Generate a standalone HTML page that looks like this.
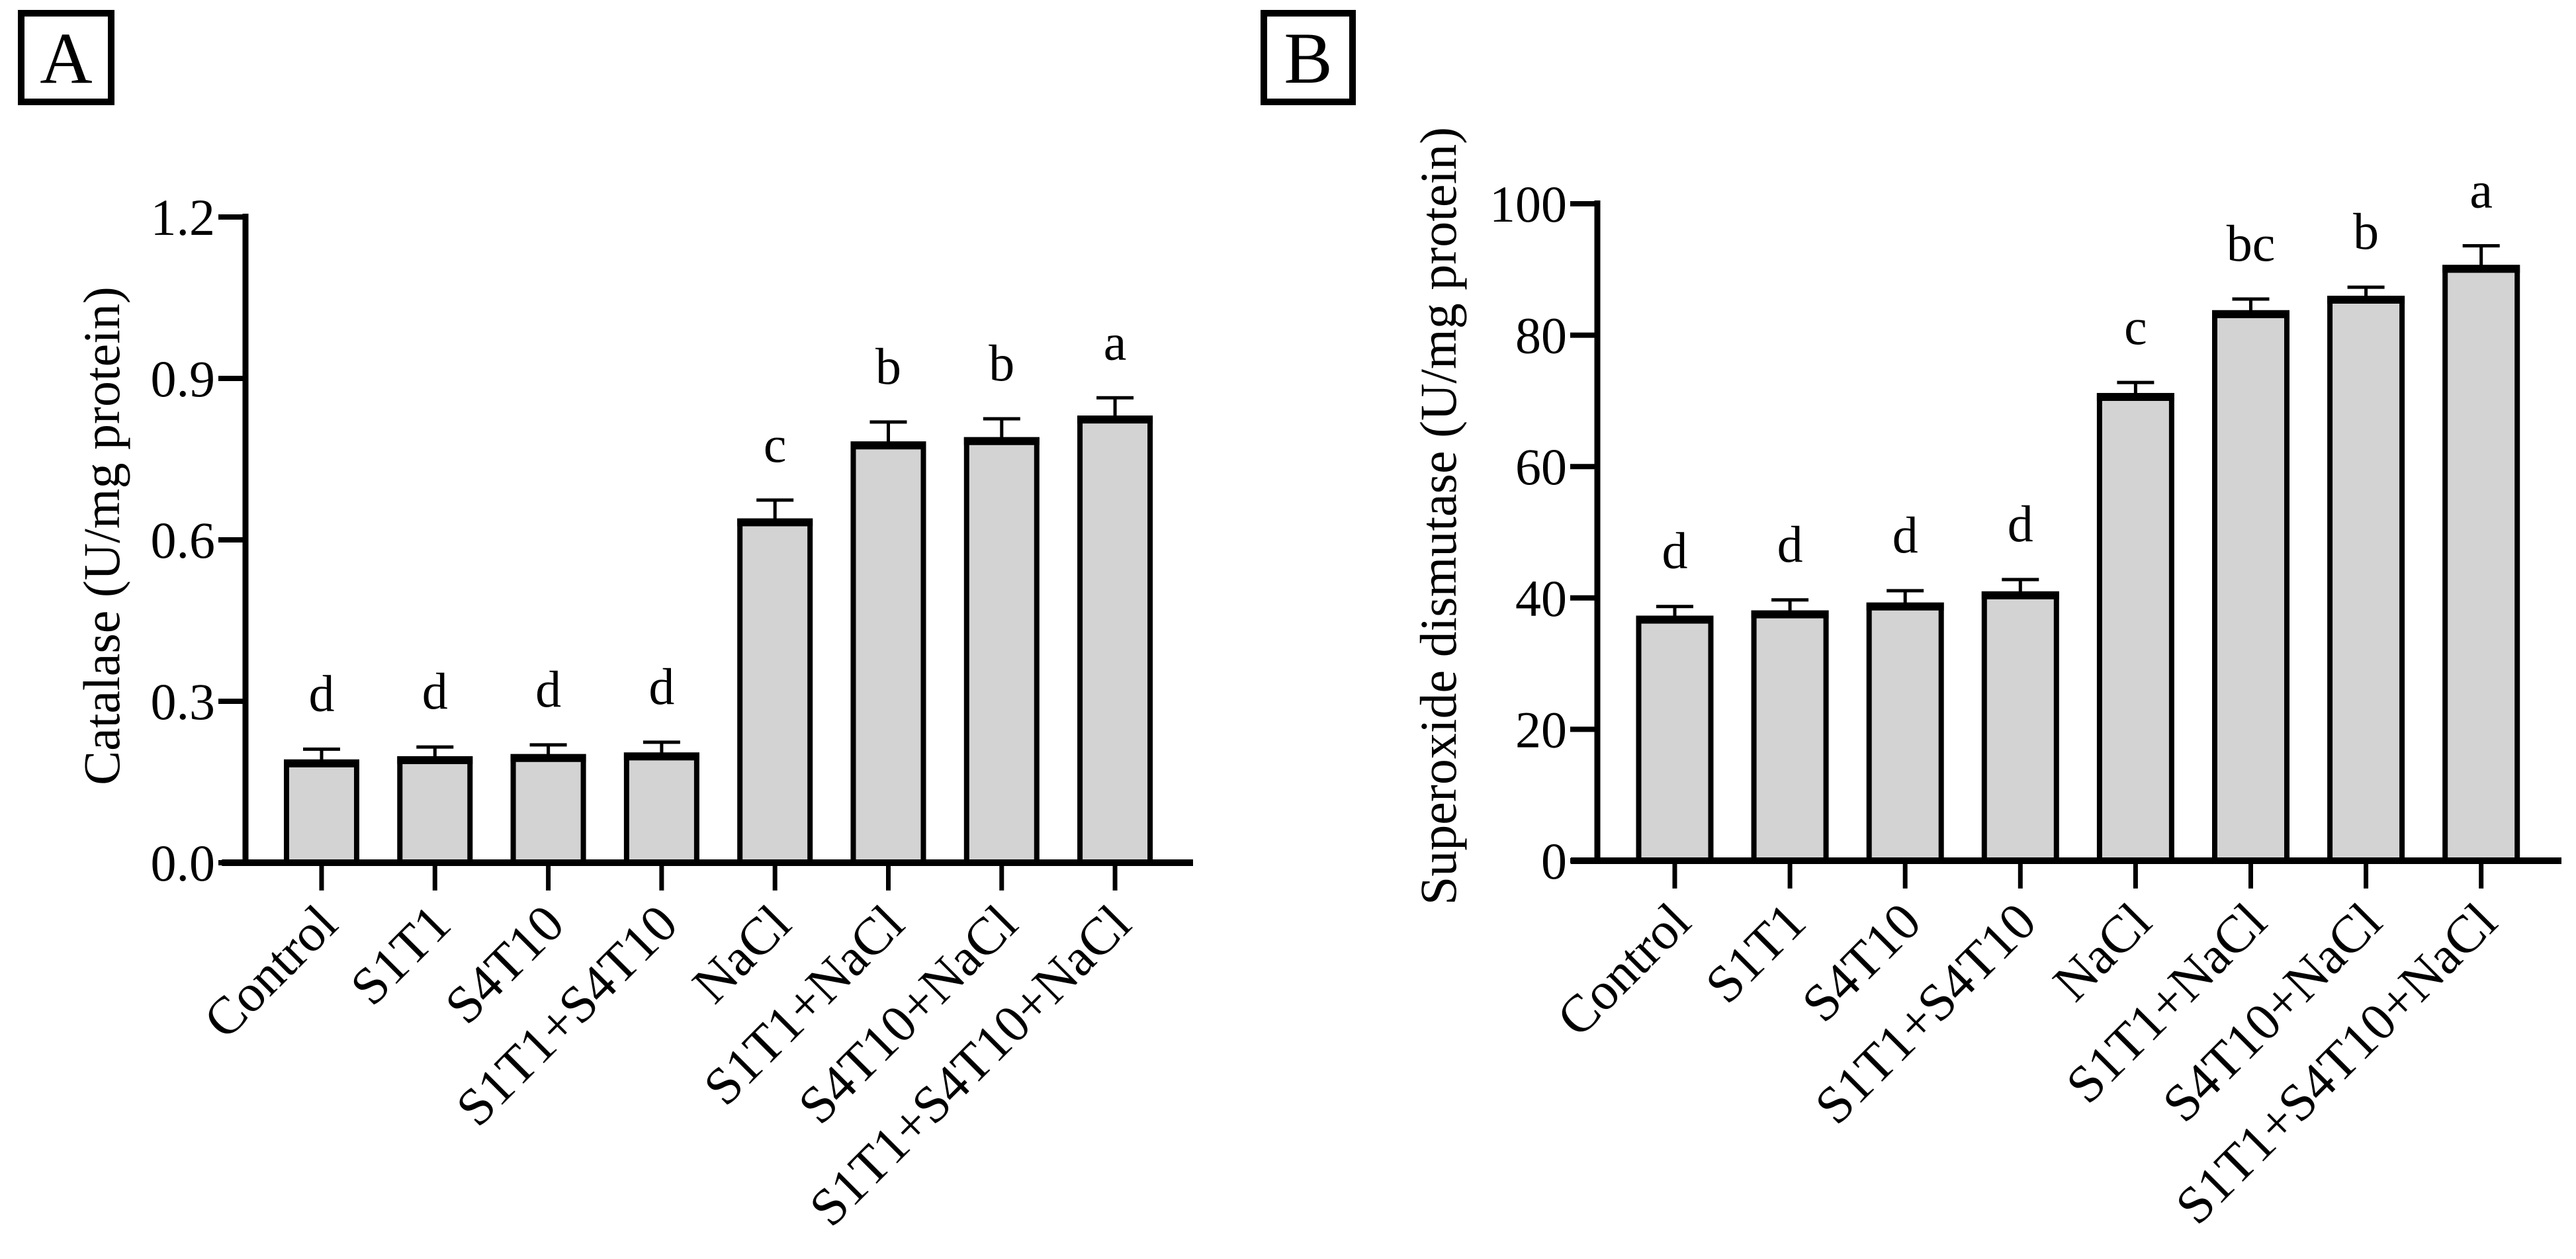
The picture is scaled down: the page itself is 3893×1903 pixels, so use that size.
<!DOCTYPE html>
<html><head><meta charset="utf-8"><style>
html,body{margin:0;padding:0;background:#fff;}
svg{display:block;font-family:"Liberation Serif",serif;}
</style></head><body>
<svg id="fig" width="3893" height="1903" viewBox="0 0 3893 1903"></svg>
<script>
const categories = ["Control","S1T1","S4T10","S1T1+S4T10","NaCl","S1T1+NaCl","S4T10+NaCl","S1T1+S4T10+NaCl"];
const catalaseValues = [0.187,0.193,0.197,0.200,0.635,0.778,0.786,0.826];
const catalaseErrors = [0.024,0.022,0.022,0.024,0.039,0.041,0.039,0.038];
const catalaseLetters = ["d","d","d","d","c","b","b","a"];
const catalaseTicks = ["0.0","0.3","0.6","0.9","1.2"];
const sodValues = [36.9,37.7,38.9,40.6,70.8,83.4,85.6,90.3];
const sodErrors = [1.8,2.0,2.2,2.2,2.0,2.1,1.7,3.3];
const sodLetters = ["d","d","d","d","c","bc","b","a"];
const sodTicks = ["0","20","40","60","80","100"];

const NS="http://www.w3.org/2000/svg";
const svg=document.getElementById('fig');
function mk(tag,attrs,parent,name){const e=document.createElementNS(NS,tag);for(const k in attrs)e.setAttribute(k,attrs[k]);


(parent||svg).appendChild(e);return e;}

function panel(cfg){
  const g=mk('g',{},svg,cfg.id);
  const y=v=>cfg.y0-(v/cfg.max)*(cfg.y0-cfg.yTop);
  const x=i=>cfg.x0+i*cfg.step;
  mk('rect',{x:cfg.box[0],y:cfg.box[1],width:cfg.box[2],height:cfg.box[3],fill:'none',stroke:'#000','stroke-width':10},g,'panel-label-box');
  const L=mk('text',{x:cfg.box[0]+cfg.box[2]/2,y:cfg.box[1]+cfg.box[3]/2+38,'text-anchor':'middle','font-size':110},g,'panel-label');L.textContent=cfg.label;
  cfg.values.forEach((v,i)=>{
    const cx=x(i), top=y(v), et=y(v+cfg.errors[i]);
    mk('line',{x1:cx,y1:top,x2:cx,y2:et,stroke:'#000','stroke-width':5},g,'error-bar');
    mk('line',{x1:cx-28,y1:et,x2:cx+28,y2:et,stroke:'#000','stroke-width':5},g,'error-cap');
    mk('rect',{x:cx-cfg.bw/2,y:top,width:cfg.bw,height:cfg.y0-top,fill:'#d3d3d3',stroke:'#000','stroke-width':8},g,'bar-'+categories[i].toLowerCase().replace(/\+/g,'-'));
    mk('line',{x1:cx-cfg.bw/2-4,y1:top+2,x2:cx+cfg.bw/2+4,y2:top+2,stroke:'#000','stroke-width':12},g,'bar-top-edge');
    const t=mk('text',{x:cx,y:et-58,'text-anchor':'middle','font-size':78},g,'significance-letter');t.textContent=cfg.letters[i];
    mk('line',{x1:cx,y1:cfg.y0,x2:cx,y2:cfg.y0+42,stroke:'#000','stroke-width':7},g,'x-tick');
    const lb=mk('text',{x:0,y:0,'text-anchor':'end','font-size':80,transform:`translate(${cx+28},${cfg.y0+97}) rotate(-45)`},g,'x-tick-label');lb.textContent=categories[i];
  });
  mk('line',{x1:cfg.x0-cfg.step*0.5-50+(cfg.axL||0),y1:cfg.y0,x2:cfg.xEnd,y2:cfg.y0,stroke:'#000','stroke-width':10},g,'x-axis');
  mk('line',{x1:cfg.ax,y1:cfg.yTop-5,x2:cfg.ax,y2:cfg.y0,stroke:'#000','stroke-width':9},g,'y-axis');
  cfg.ticks.forEach(tk=>{
    const ty=y(parseFloat(tk));
    mk('line',{x1:cfg.ax-41,y1:ty,x2:cfg.ax,y2:ty,stroke:'#000','stroke-width':8},g,'y-tick');
    const t=mk('text',{x:cfg.ax-46,y:ty+27,'text-anchor':'end','font-size':78},g,'y-tick-label');t.textContent=tk;
  });
  const yt=mk('text',{x:0,y:0,'text-anchor':'middle','font-size':78,transform:`translate(${cfg.titleX},${cfg.titleY}) rotate(-90)`},g,'y-axis-title');yt.textContent=cfg.title;
}
panel({id:'catalase-panel',label:'A',box:[32,20,136,134],x0:486,step:171.3,bw:106,y0:1304,yTop:328,max:1.2,ax:371,xEnd:1803,axL:-15,
  values:catalaseValues,errors:catalaseErrors,letters:catalaseLetters,ticks:catalaseTicks,title:'Catalase (U/mg protein)',titleX:180,titleY:810});
panel({id:'sod-panel',label:'B',box:[1910,20,134,134],x0:2531,step:174.1,bw:109,y0:1301,yTop:308,max:100,ax:2414,xEnd:3871,axL:-20,
  values:sodValues,errors:sodErrors,letters:sodLetters,ticks:sodTicks,title:'Superoxide dismutase (U/mg protein)',titleX:2200,titleY:780});
</script>
</body></html>
